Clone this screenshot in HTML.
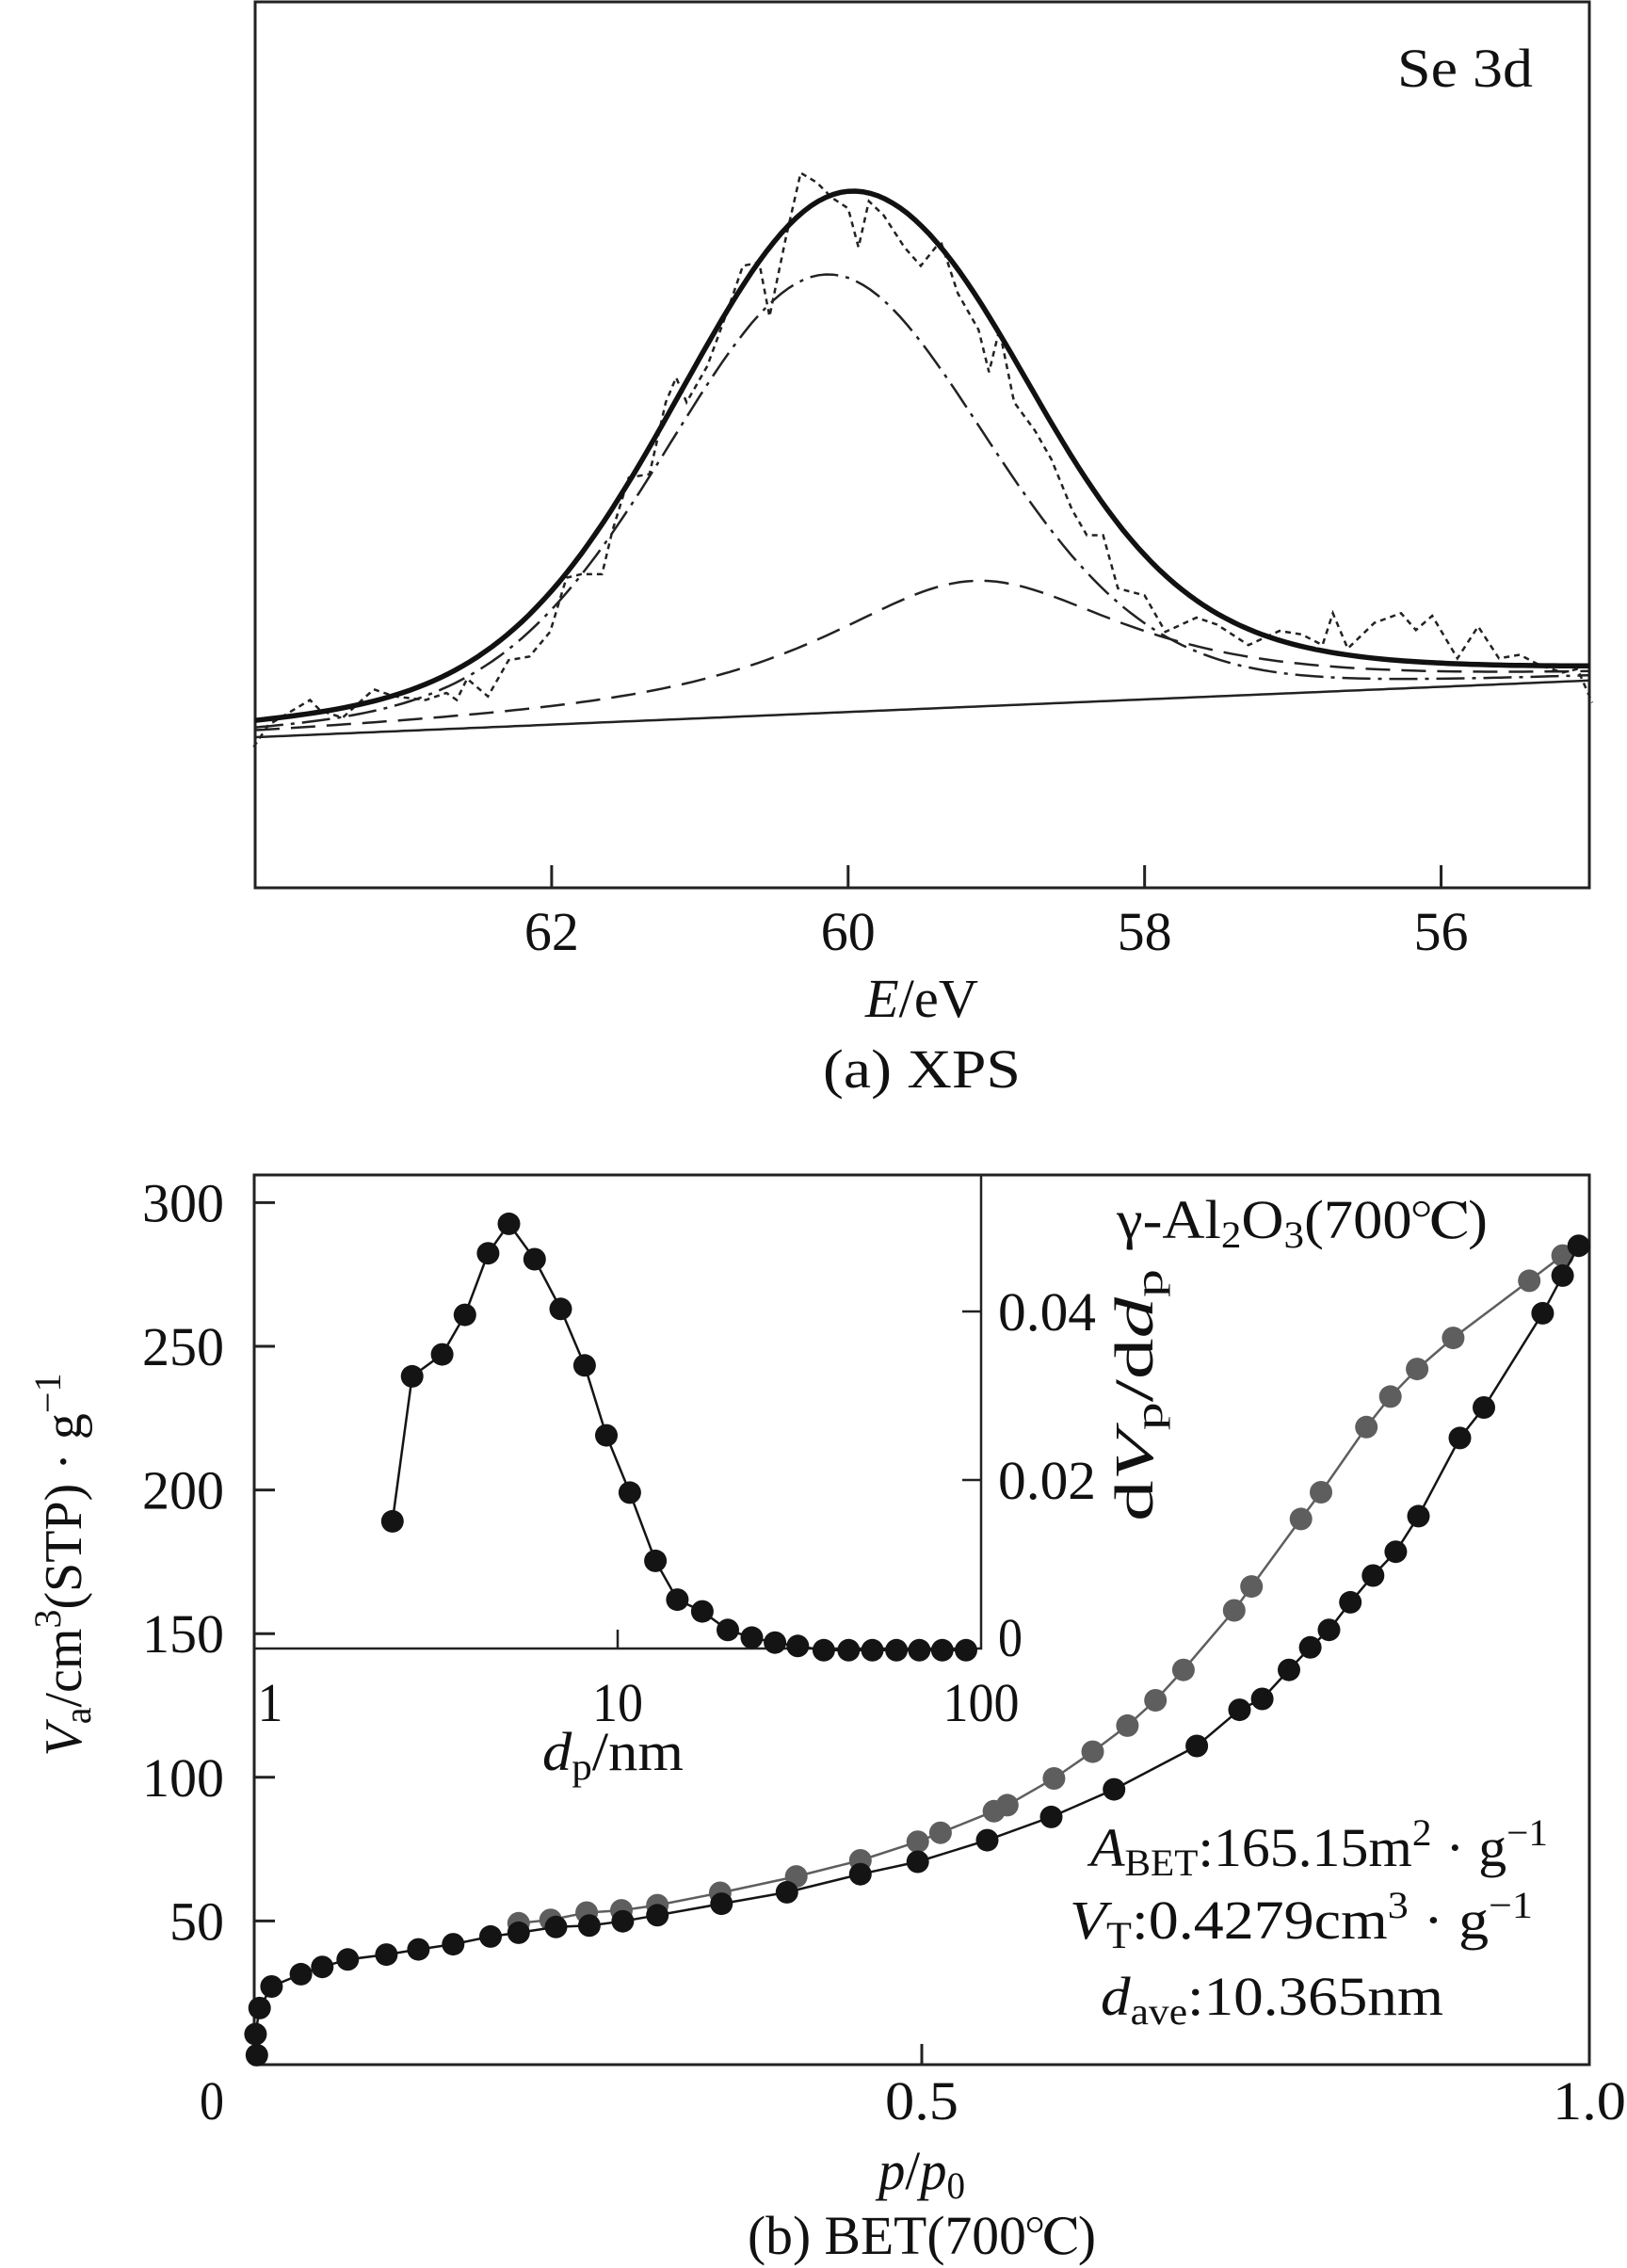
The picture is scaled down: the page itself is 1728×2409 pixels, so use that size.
<!DOCTYPE html>
<html><head><meta charset="utf-8"><style>
html,body{margin:0;padding:0;background:#fff}
svg{display:block}
svg text{font-family:"Liberation Serif","Times New Roman",Times,"Nimbus Roman","FreeSerif","Noto Serif CJK SC",serif;fill:#111}
</style></head><body>
<svg id="fig" width="1728" height="2409" viewBox="0 0 1728 2409" xmlns="http://www.w3.org/2000/svg" font-family="Liberation Serif, Times New Roman, serif">
<g id="xps"></g>
<g id="bet"></g>
</svg>
<script>
// ---------- XPS data ----------
const xpsRawE = [64.01,63.91,63.63,63.56,63.41,63.20,63.06,62.85,62.71,62.64,62.57,62.43,62.29,62.15,62.01,61.90,61.80,61.66,61.59,61.48,61.34,61.23,61.16,61.09,60.95,60.81,60.71,60.60,60.53,60.42,60.32,60.21,60.11,60.00,59.93,59.86,59.76,59.62,59.51,59.41,59.37,59.26,59.12,59.05,58.98,58.88,58.74,58.63,58.49,58.39,58.28,58.18,58.00,57.86,57.65,57.51,57.30,57.09,56.94,56.80,56.73,56.63,56.45,56.27,56.17,56.06,55.89,55.75,55.61,55.47,55.33,55.18,55.08,54.98];
const xpsRawI = [15.9,18.4,21.2,20.0,19.2,22.4,21.6,21.2,22.0,21.2,23.6,21.6,25.7,26.1,28.9,35.0,35.4,35.4,40.3,46.3,46.7,54.8,57.6,54.8,58.9,65.3,70.2,70.6,64.5,73.4,80.7,79.6,77.9,76.7,72.3,77.5,75.9,72.3,70.2,72.3,72.7,67.1,63.0,58.2,63.0,54.8,51.6,48.4,42.7,39.8,39.8,33.8,33.0,28.9,30.5,29.7,27.4,29.0,28.6,27.4,31.0,27.0,29.9,31.0,29.1,30.7,25.9,29.5,25.9,26.3,25.1,24.3,24.7,20.9];
const xpsBgE = [64, 55];
const xpsBgI = [17.0, 23.4];
const peakCenters = [60.15, 59.15];
const peakHeights = [49.5, 14.2];
const peakFwhm = [2.6, 2.5];
const peakEta = [0.2, 0.9];
const xpsTicks = [62, 60, 58, 56];
const xpsTickLabels = ["62", "60", "58", "56"];

// ---------- BET data ----------
const adsP = [0.002,0.001,0.004,0.013,0.035,0.051,0.070,0.099,0.123,0.149,0.177,0.198,0.226,0.251,0.276,0.302,0.350,0.399,0.454,0.497,0.549,0.597,0.644,0.706,0.738,0.755,0.775,0.791,0.805,0.821,0.838,0.855,0.872,0.903,0.921,0.965,0.980,0.992];
const adsV = [3.3,10.6,19.7,27.2,31.5,34.0,36.6,38.3,40.1,41.9,44.6,45.9,47.9,48.4,49.9,52.0,56.0,60.0,66.3,70.6,78.1,86.2,95.8,110.9,123.5,127.3,137.4,145.2,151.3,160.9,170.2,178.5,190.9,218.1,228.7,261.5,274.6,285.0];
const desP = [0.198,0.222,0.249,0.275,0.302,0.349,0.406,0.454,0.497,0.514,0.554,0.564,0.599,0.628,0.654,0.675,0.696,0.734,0.747,0.784,0.799,0.833,0.851,0.871,0.898,0.955,0.980];
const desV = [49.2,50.4,52.9,53.7,55.5,59.8,65.5,71.1,77.6,80.7,88.2,90.3,99.6,108.9,118.0,126.8,137.4,158.1,166.4,189.9,199.2,221.9,232.5,242.1,252.9,272.8,281.6];
const poreD = [2.40,2.72,3.29,3.80,4.40,5.02,5.91,6.97,8.11,9.31,10.8,12.7,14.6,17.1,20.1,23.4,27.1,31.3,36.9,43.2,50.2,58.5,67.6,78.2,90.9];
const poreDV = [0.0151,0.0323,0.0349,0.0396,0.0469,0.0504,0.0462,0.0403,0.0336,0.0253,0.0185,0.0104,0.0058,0.0044,0.0022,0.0013,0.0007,0.0003,-0.0002,-0.0002,-0.0002,-0.0002,-0.0002,-0.0002,-0.0002];
const betYTicks = [50,100,150,200,250,300];
const betYTickLabels = ["50","100","150","200","250","300"];
const betXTicks = [0,0.5,1.0];
const betXTickLabels = ["0","0.5","1.0"];
const insetXTicks = [1,10,100];
const insetXTickLabels = ["1","10","100"];
const insetYTicks = [0,0.02,0.04];
const insetYTickLabels = ["0","0.02","0.04"];

const NS = "http://www.w3.org/2000/svg";
function mk(parent, tag, attrs, txt){
  const e = document.createElementNS(NS, tag);
  for (const k in attrs) e.setAttribute(k, attrs[k]);
  if (txt !== undefined) e.textContent = txt;
  parent.appendChild(e);
  return e;
}

// ===== XPS chart =====
const xg = document.getElementById('xps');
const XL=271, XR=1688, XT=2, XB=943;
const xE = e => XL + (64 - e) / 9 * (XR - XL);
const yI = i => XB - i / 100 * (XB - XT);
function bg(e){ return xpsBgI[0] + (xpsBgI[1]-xpsBgI[0]) * (xpsBgE[0]-e)/(xpsBgE[0]-xpsBgE[1]); }
function comp(k, e){
  const d = e - peakCenters[k], w = peakFwhm[k];
  const g = Math.exp(-4*Math.LN2*d*d/(w*w));
  const l = 1/(1+4*d*d/(w*w));
  return peakHeights[k]*((1-peakEta[k])*g + peakEta[k]*l);
}
function curvePath(fn){
  let s = "";
  for (let e = 64; e >= 54.999; e -= 0.05){
    s += (s ? "L" : "M") + xE(e).toFixed(1) + "," + yI(fn(e)).toFixed(1);
  }
  return s;
}
let el;
el = mk(xg,'rect',{x:XL,y:XT,width:XR-XL,height:XB-XT,fill:'none',stroke:'#222','stroke-width':3});


xpsTicks.forEach((t,i)=>{
  const tk = mk(xg,'line',{x1:xE(t),x2:xE(t),y1:XB,y2:XB-24,stroke:'#222','stroke-width':3});
  
  
  const lb = mk(xg,'text',{x:xE(t),y:1009,'font-size':58,'text-anchor':'middle',textLength:58,lengthAdjust:'spacingAndGlyphs'},xpsTickLabels[i]);
  
  
});
el = mk(xg,'path',{d:curvePath(bg),fill:'none',stroke:'#222','stroke-width':2.5});


el = mk(xg,'path',{d:curvePath(e=>bg(e)+comp(1,e)),fill:'none',stroke:'#222','stroke-width':2.5,'stroke-dasharray':'26 12'});


el = mk(xg,'path',{d:curvePath(e=>bg(e)+comp(0,e)),fill:'none',stroke:'#222','stroke-width':2.5,'stroke-dasharray':'30 8 4 8'});


let rp = "";
xpsRawE.forEach((e,i)=>{ rp += (i?"L":"M")+xE(e).toFixed(1)+","+yI(xpsRawI[i]).toFixed(1); });
el = mk(xg,'path',{d:rp,fill:'none',stroke:'#222','stroke-width':2.5,'stroke-dasharray':'6 5'});


el = mk(xg,'path',{d:curvePath(e=>bg(e)+comp(0,e)+comp(1,e)),fill:'none',stroke:'#111','stroke-width':5.5});


el = mk(xg,'text',{x:1556,y:92,'font-size':58,'text-anchor':'middle',textLength:144,lengthAdjust:'spacingAndGlyphs'},'Se 3d');


el = mk(xg,'text',{x:979,y:1080,'font-size':58,'text-anchor':'middle',textLength:120,lengthAdjust:'spacingAndGlyphs'});


mk(el,'tspan',{'font-style':'italic'},'E');
mk(el,'tspan',{},'/eV');
el = mk(xg,'text',{x:979,y:1155,'font-size':58,'text-anchor':'middle',textLength:210,lengthAdjust:'spacingAndGlyphs'},'(a) XPS');



// ===== BET chart =====
const bg2 = document.getElementById('bet');
const BL=270, BR=1688, BT=1248, BB=2193;
const xP = p => BL + p*(BR-BL);
const yV = v => BB - v*3.052;
const IR=1042, IB=1751;
const xD = d => BL + Math.log10(d)*386;
const yDV = v => IB - v*8950;

el = mk(bg2,'rect',{x:BL,y:BT,width:BR-BL,height:BB-BT,fill:'none',stroke:'#222','stroke-width':3});


el = mk(bg2,'polyline',{points:`${BL},${IB} ${IR},${IB} ${IR},${BT}`,fill:'none',stroke:'#222','stroke-width':2.5});



betYTicks.forEach((t,i)=>{
  const tk = mk(bg2,'line',{x1:BL,x2:BL+22,y1:yV(t),y2:yV(t),stroke:'#222','stroke-width':3});
  
  
  const lb = mk(bg2,'text',{x:238,y:yV(t)+20,'font-size':58,'text-anchor':'end',textLength:betYTickLabels[i].length*29,lengthAdjust:'spacingAndGlyphs'},betYTickLabels[i]);
  
  
});
betXTicks.forEach((t,i)=>{
  if (t>0 && t<1){
    const tk = mk(bg2,'line',{x1:xP(t),x2:xP(t),y1:BB,y2:BB-22,stroke:'#222','stroke-width':3});
    
    
  }
  const lx = t===0 ? 225 : xP(t);
  const lb = mk(bg2,'text',{x:lx,y:2251,'font-size':58,'text-anchor':'middle',textLength:betXTickLabels[i].length*26,lengthAdjust:'spacingAndGlyphs'},betXTickLabels[i]);
  
  
});
insetXTicks.forEach((t,i)=>{
  if (t===10){
    const tk = mk(bg2,'line',{x1:xD(t),x2:xD(t),y1:IB,y2:IB-20,stroke:'#222','stroke-width':2.5});
    
    
  }
  const lx = t===1 ? 287 : xD(t);
  const lb = mk(bg2,'text',{x:lx,y:1828,'font-size':58,'text-anchor':'middle',textLength:insetXTickLabels[i].length*27,lengthAdjust:'spacingAndGlyphs'},insetXTickLabels[i]);
  
  
});
insetYTicks.forEach((t,i)=>{
  if (t>0){
    const tk = mk(bg2,'line',{x1:IR-20,x2:IR,y1:yDV(t),y2:yDV(t),stroke:'#222','stroke-width':2.5});
    
    
  }
  const ly = t===0 ? 1759 : yDV(t)+20;
  const lb = mk(bg2,'text',{x:1060,y:ly,'font-size':58,'text-anchor':'start',textLength:insetYTickLabels[i].length*26,lengthAdjust:'spacingAndGlyphs'},insetYTickLabels[i]);
  
  
});

function series(px, py, fx, fy, color, name){
  let d="";
  px.forEach((v,i)=>{ d += (i?"L":"M")+fx(v).toFixed(1)+","+fy(py[i]).toFixed(1); });
  const ln = mk(bg2,'path',{d:d,fill:'none',stroke:color,'stroke-width':2.5});
  
  
  px.forEach((v,i)=>{
    const c = mk(bg2,'circle',{cx:fx(v).toFixed(1),cy:fy(py[i]).toFixed(1),r:12,fill:color});
    
    
  });
}
series(desP, desV, xP, yV, '#5e5e5e', 'desorption');
series(adsP, adsV, xP, yV, '#141414', 'adsorption');
series(poreD, poreDV, xD, yDV, '#141414', 'pore-distribution');

el = mk(bg2,'text',{x:0,y:0,'font-size':56,'text-anchor':'middle',transform:'translate(86,1662) rotate(-90)'});


mk(el,'tspan',{'font-style':'italic'},'V');
mk(el,'tspan',{'font-size':40,dy:10},'a');
mk(el,'tspan',{dy:-10},'/cm');
mk(el,'tspan',{'font-size':40,dy:-22},'3');
mk(el,'tspan',{dy:22},'(STP) · g');
mk(el,'tspan',{'font-size':40,dy:-22},'−1');

el = mk(bg2,'text',{x:0,y:0,'font-size':58,'text-anchor':'middle',transform:'translate(1224,1482) rotate(-90)',textLength:268,lengthAdjust:'spacingAndGlyphs'});


mk(el,'tspan',{},'d');
mk(el,'tspan',{'font-style':'italic'},'V');
mk(el,'tspan',{'font-size':40,dy:10},'p');
mk(el,'tspan',{dy:-10},'/d');
mk(el,'tspan',{'font-style':'italic'},'d');
mk(el,'tspan',{'font-size':40,dy:10},'p');

el = mk(bg2,'text',{x:651,y:1880,'font-size':58,'text-anchor':'middle',textLength:150,lengthAdjust:'spacingAndGlyphs'});


mk(el,'tspan',{'font-style':'italic'},'d');
mk(el,'tspan',{'font-size':40,dy:10},'p');
mk(el,'tspan',{dy:-10},'/nm');

el = mk(bg2,'text',{x:979,y:2325,'font-size':58,'text-anchor':'middle',textLength:92,lengthAdjust:'spacingAndGlyphs'});


mk(el,'tspan',{'font-style':'italic'},'p');
mk(el,'tspan',{},'/');
mk(el,'tspan',{'font-style':'italic'},'p');
mk(el,'tspan',{'font-size':40,dy:10},'0');

el = mk(bg2,'text',{x:979,y:2394,'font-size':58,'text-anchor':'middle',textLength:370,lengthAdjust:'spacingAndGlyphs'},'(b) BET(700℃)');



el = mk(bg2,'text',{x:1186,y:1315,'font-size':58,textLength:394,lengthAdjust:'spacingAndGlyphs'});


mk(el,'tspan',{},'γ-Al');
mk(el,'tspan',{'font-size':40,dy:10},'2');
mk(el,'tspan',{dy:-10},'O');
mk(el,'tspan',{'font-size':40,dy:10},'3');
mk(el,'tspan',{dy:-10},'(700℃)');

el = mk(bg2,'text',{x:1158,y:1982,'font-size':58,textLength:486,lengthAdjust:'spacingAndGlyphs'});


mk(el,'tspan',{'font-style':'italic'},'A');
mk(el,'tspan',{'font-size':40,dy:10},'BET');
mk(el,'tspan',{dy:-10},':165.15m');
mk(el,'tspan',{'font-size':40,dy:-22},'2');
mk(el,'tspan',{dy:22},' · g');
mk(el,'tspan',{'font-size':40,dy:-22},'−1');

el = mk(bg2,'text',{x:1136,y:2059,'font-size':58,textLength:492,lengthAdjust:'spacingAndGlyphs'});


mk(el,'tspan',{'font-style':'italic'},'V');
mk(el,'tspan',{'font-size':40,dy:10},'T');
mk(el,'tspan',{dy:-10},':0.4279cm');
mk(el,'tspan',{'font-size':40,dy:-22},'3');
mk(el,'tspan',{dy:22},' · g');
mk(el,'tspan',{'font-size':40,dy:-22},'−1');

el = mk(bg2,'text',{x:1169,y:2140,'font-size':58,textLength:364,lengthAdjust:'spacingAndGlyphs'});


mk(el,'tspan',{'font-style':'italic'},'d');
mk(el,'tspan',{'font-size':40,dy:10},'ave');
mk(el,'tspan',{dy:-10},':10.365nm');
</script>
</body></html>
